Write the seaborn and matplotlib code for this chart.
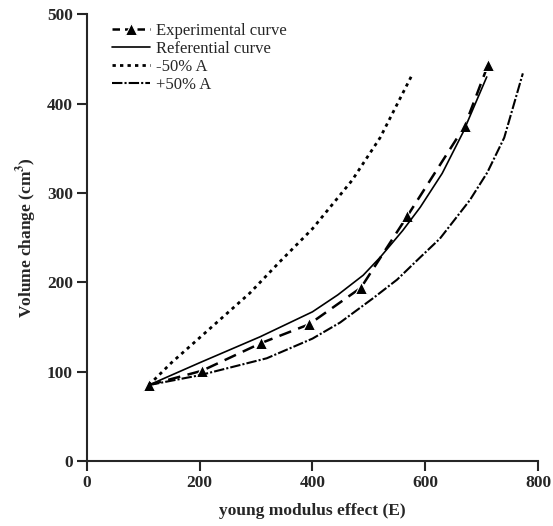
import matplotlib
matplotlib.use("Agg")
import matplotlib.pyplot as plt
import seaborn as sns

# values
exp_x = [110, 204, 309, 394, 486, 568, 670, 711]
exp_y = [85, 101, 132, 153, 194, 274, 375, 443]

ref_x = [110, 200, 307, 400, 445, 490, 520, 560, 591, 630, 667, 709]
ref_y = [85, 110, 139, 167, 186, 208, 228, 258, 284, 322, 368, 430]

minus_x = [110, 150, 200, 289, 342, 400, 470, 520, 578]
minus_y = [85, 110, 138, 188, 223, 260, 314, 362, 434]

plus_x = [110, 200, 319, 400, 449, 507, 550, 591, 626, 679, 710, 740, 773]
plus_y = [85, 96, 115, 137, 155, 182, 203, 228, 249, 292, 323, 362, 434]

sns.set_style("ticks")
plt.rcParams["font.family"] = ["Liberation Serif", "DejaVu Serif"]
plt.rcParams["mathtext.fontset"] = "stix"

fig = plt.figure(figsize=(5.53, 5.26), dpi=100)
ax = fig.add_axes([0.157, 0.1236, 0.816, 0.849])

sns.lineplot(x=exp_x, y=exp_y, ax=ax, color="black", linewidth=1.8,
             marker="^", markersize=8, label="Experimental curve")
ax.lines[-1].set_dashes((5, 3))
sns.lineplot(x=ref_x, y=ref_y, ax=ax, color="black", linewidth=1.2,
             label="Referential curve")
sns.lineplot(x=minus_x, y=minus_y, ax=ax, color="black", linewidth=2.0,
             label="-50% A")
ax.lines[-1].set_dashes((1.2, 1.5))
sns.lineplot(x=plus_x, y=plus_y, ax=ax, color="black", linewidth=1.5,
             label="+50% A")
ax.lines[-1].set_dashes((5, 1, 1, 1))

ax.set_xlim(0, 800)
ax.set_ylim(0, 500)
ax.set_xticks([0, 200, 400, 600, 800])
ax.set_yticks([0, 100, 200, 300, 400, 500])
sns.despine(ax=ax)
for s in ["left", "bottom"]:
    ax.spines[s].set_linewidth(1.5)
ax.tick_params(direction="out", length=7, width=1.5, labelsize=12.5, pad=3)
for t in ax.get_xticklabels() + ax.get_yticklabels():
    t.set_fontweight("bold")
ax.set_xlabel("young modulus effect (E)", fontsize=12.5, fontweight="bold",
              labelpad=9)
ax.set_ylabel("Volume change (cm$^\\mathbf{3}$)", fontsize=12.5,
              fontweight="bold", labelpad=6)

leg = ax.legend(loc="upper left", bbox_to_anchor=(0.04, 0.995), frameon=False,
                fontsize=12, handlelength=2.3, handletextpad=0.35,
                labelspacing=0.12, borderaxespad=0.0)
leg.legend_handles[0].set_dashes((3, 2))

fig.savefig("out.png", dpi=100)
